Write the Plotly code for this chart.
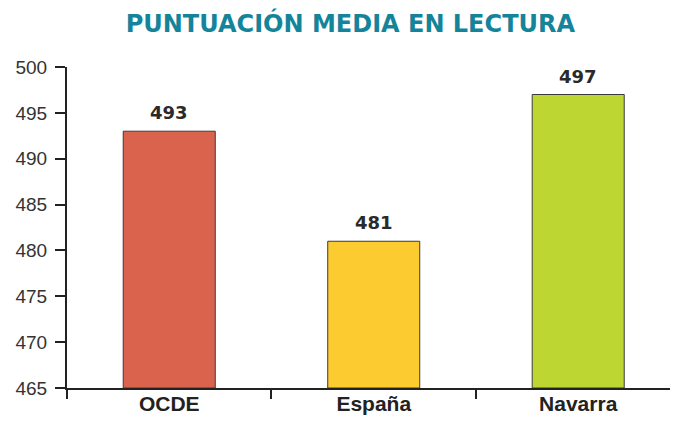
import plotly.graph_objects as go

categories = ["OCDE", "España", "Navarra"]
scores = [493, 481, 497]
colors = ["#DA634E", "#FBCB30", "#BDD632"]
y_ticks = [465, 470, 475, 480, 485, 490, 495, 500]
y_min = 465

fig = go.Figure()
fig.add_trace(go.Bar(
    x=categories, y=[s - y_min for s in scores], base=y_min,
    width=0.45,
    marker=dict(color=colors, line=dict(color="#3a3a3a", width=1)),
    hoverinfo="skip",
))

for c, s in zip(categories, scores):
    fig.add_annotation(x=c, y=s, text=f"<b>{s}</b>", showarrow=False,
                       yanchor="bottom", yshift=6,
                       font=dict(family="DejaVu Sans", size=18, color="#2a2a2a"))

# page body adds an 8px margin, so the figure is 8px smaller on each axis
fig.update_layout(
    width=670, height=415,
    margin=dict(l=59, r=0, t=59, b=35),
    paper_bgcolor="white", plot_bgcolor="white",
    showlegend=False,
    title=dict(text="<b>PUNTUACIÓN MEDIA EN LECTURA</b>", x=0.511, xanchor="center",
               y=0.963, yanchor="middle",
               font=dict(family="DejaVu Sans", size=24, color="#14849A")),
    xaxis=dict(range=[-0.5, 2.488], showline=True, linecolor="#222", linewidth=2,
               ticks="outside", tickson="boundaries", ticklen=9, tickwidth=2, tickcolor="#222",
               tickfont=dict(family="Liberation Sans", size=21, color="#222"),
               tickprefix="<b>", ticksuffix="</b>",
               ticklabelstandoff=-4,
               showgrid=False, zeroline=False, automargin=False),
    yaxis=dict(range=[465, 500], tickvals=y_ticks, showline=True, linecolor="#222", linewidth=2,
               ticks="outside", ticklen=10, tickwidth=2, tickcolor="#222",
               ticklabelstandoff=4,
               tickfont=dict(family="Liberation Sans", size=19, color="#333"),
               showgrid=False, zeroline=False, automargin=False),
)

fig.write_html("out.html")
